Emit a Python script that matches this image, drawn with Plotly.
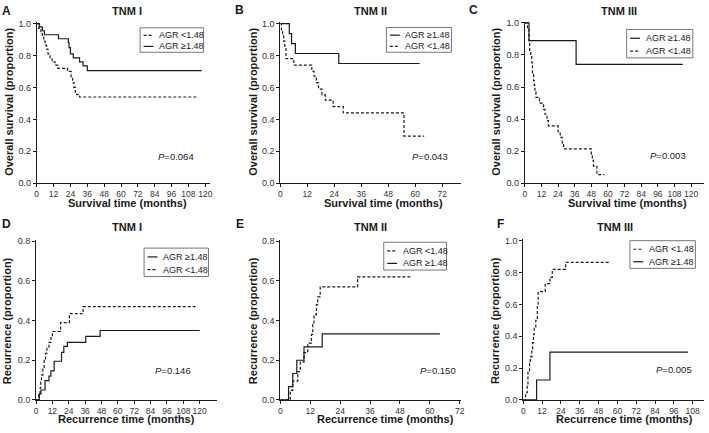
import plotly.graph_objects as go

W, H = 709, 433

# ---------------- data ----------------
# Panel A: TNM I, overall survival
A_hi_t = [0, 2, 4, 5.5, 15.5, 22.5, 23, 24, 26, 30.5, 33, 36, 117.5]
A_hi_s = [1.0, 0.98, 0.955, 0.93, 0.905, 0.88, 0.85, 0.81, 0.785, 0.76, 0.735, 0.705, 0.705]
A_lo_t = [0, 1.5, 3, 4, 5, 6, 7, 8, 9.5, 11, 13, 15, 22, 24.5, 25.5, 26.5, 27.5, 28.5, 30.5, 114]
A_lo_s = [1.0, 0.97, 0.945, 0.92, 0.89, 0.865, 0.84, 0.81, 0.785, 0.76, 0.74, 0.72, 0.70, 0.665, 0.63, 0.6, 0.57, 0.555, 0.54, 0.54]

# Panel B: TNM II, overall survival
B_hi_t = [0, 4, 5, 6.7, 26, 62]
B_hi_s = [1.0, 0.9375, 0.875, 0.8125, 0.75, 0.75]
B_lo_t = [0, 0.5, 1, 1.5, 2, 2.5, 6, 14, 15, 16, 17, 18.5, 20, 23.5, 28, 55, 64]
B_lo_s = [1.0, 0.96, 0.93, 0.89, 0.85, 0.78, 0.74, 0.70, 0.67, 0.63, 0.59, 0.555, 0.52, 0.48, 0.44, 0.295, 0.295]

# Panel C: TNM III, overall survival
C_hi_t = [0, 3, 37, 114]
C_hi_s = [1.0, 0.889, 0.741, 0.741]
C_lo_t = [0, 2, 3, 3.5, 4.3, 5, 5.5, 6.3, 6.8, 7.3, 8, 10.5, 13.5, 14.5, 16, 17, 24, 25.5, 27, 28, 48, 48.7, 49.5, 52, 57.5]
C_lo_s = [1.0, 0.96, 0.89, 0.82, 0.79, 0.75, 0.68, 0.64, 0.61, 0.57, 0.536, 0.50, 0.46, 0.43, 0.39, 0.357, 0.32, 0.286, 0.25, 0.214, 0.18, 0.143, 0.107, 0.054, 0.054]

# Panel D: TNM I, recurrence
D_hi_t = [0, 2.4, 3.6, 6.6, 9.5, 10.9, 13.3, 18.7, 20.4, 23, 36.5, 47, 120]
D_hi_s = [0, 0.03, 0.05, 0.097, 0.12, 0.146, 0.195, 0.24, 0.27, 0.29, 0.32, 0.35, 0.35]
D_lo_t = [0, 2, 3, 3.5, 4, 5, 6, 7, 8, 9.5, 11, 12, 18, 24.5, 34.5, 117]
D_lo_s = [0, 0.03, 0.06, 0.09, 0.125, 0.16, 0.2, 0.235, 0.26, 0.29, 0.32, 0.345, 0.39, 0.435, 0.47, 0.47]

# Panel E: TNM II, recurrence
E_hi_t = [0, 3.3, 5, 6.6, 9.5, 16.8, 64]
E_hi_s = [0, 0.067, 0.133, 0.2, 0.267, 0.333, 0.333]
E_lo_t = [0, 4, 5, 7, 8, 9.5, 11, 12.5, 13, 13.5, 14.5, 15, 16, 31, 53]
E_lo_s = [0, 0.048, 0.095, 0.143, 0.19, 0.238, 0.286, 0.33, 0.38, 0.43, 0.48, 0.52, 0.57, 0.62, 0.62]

# Panel F: TNM III, recurrence
F_hi_t = [0, 8.5, 17, 105]
F_hi_s = [0, 0.125, 0.3, 0.3]
F_lo_t = [0, 1.5, 2.5, 3, 4, 4.5, 5.5, 6, 6.5, 7, 8, 9, 9.5, 14, 17, 18.5, 27, 55.5]
F_lo_s = [0, 0.045, 0.09, 0.18, 0.23, 0.27, 0.32, 0.36, 0.41, 0.45, 0.5, 0.59, 0.68, 0.73, 0.77, 0.82, 0.864, 0.864]

LABEL_HI = "AGR \u22651.48"
LABEL_LO = "AGR <1.48"

panels = [
    dict(letter="A", title="TNM I", p="0.064", hi=(A_hi_t, A_hi_s), lo=(A_lo_t, A_lo_s),
         box=(35, 20, 210, 183), xr=123.5, xmax=120, ymax=1.0,
         xt="Survival time (months)", yt="Overall survival (proportion)",
         order=["lo", "hi"], leg=(139.3, 24.3, 203.3, 49.3), ppos=(175, 156),
         lpos=(5, 7), tpos=(126, 7), xtpos=(127, 210), ytpos=(7, 100)),
    dict(letter="B", title="TNM II", p="0.043", hi=(B_hi_t, B_hi_s), lo=(B_lo_t, B_lo_s),
         box=(280.7, 20, 463, 183), xr=80.4, xmax=72, ymax=1.0,
         xt="Survival time (months)", yt="Overall survival (proportion)",
         order=["hi", "lo"], leg=(387.7, 24, 453.3, 49.3), ppos=(432, 156),
         lpos=(240, 6), tpos=(372, 7), xtpos=(385, 210), ytpos=(253, 100)),
    dict(letter="C", title="TNM III", p="0.003", hi=(C_hi_t, C_hi_s), lo=(C_lo_t, C_lo_s),
         box=(527.3, 19.3, 708, 183), xr=129.3, xmax=120, ymax=1.0,
         xt="Survival time (months)", yt="Overall survival (proportion)",
         order=["hi", "lo"], leg=(630, 26, 696.7, 55), ppos=(672, 155),
         lpos=(476, 6), tpos=(622, 7), xtpos=(631, 210), ytpos=(498, 100)),
    dict(letter="D", title="TNM I", p="0.146", hi=(D_hi_t, D_hi_s), lo=(D_lo_t, D_lo_s),
         box=(34.3, 242.3, 216.7, 404.3), xr=132.6, xmax=120, ymax=0.8,
         xt="Recurrence time (months)", yt="Recurrence (proportion)",
         order=["hi", "lo"], leg=(143.3, 249.3, 208.3, 278.3), ppos=(172, 374),
         lpos=(5, 225), tpos=(126, 228), xtpos=(126, 430.5), ytpos=(5, 323)),
    dict(letter="E", title="TNM II", p="0.150", hi=(E_hi_t, E_hi_s), lo=(E_lo_t, E_lo_s),
         box=(280.7, 242.3, 462.7, 404.3), xr=72.4, xmax=72, ymax=0.8,
         xt="Recurrence time (months)", yt="Recurrence (proportion)",
         order=["lo", "hi"], leg=(385, 243.3, 448.3, 271.7), ppos=(440, 374),
         lpos=(240, 225), tpos=(372, 228), xtpos=(387, 430.5), ytpos=(253, 323)),
    dict(letter="F", title="TNM III", p="0.005", hi=(F_hi_t, F_hi_s), lo=(F_lo_t, F_lo_s),
         box=(525.7, 241.7, 708, 404.3), xr=115.2, xmax=108, ymax=1.0,
         xt="Recurrence time (months)", yt="Recurrence (proportion)",
         order=["lo", "hi"], leg=(633.3, 241.7, 699.3, 270), ppos=(678, 373),
         lpos=(503, 225), tpos=(618, 228), xtpos=(628, 430.5), ytpos=(498, 323)),
]

FONT = "Arial, 'Liberation Sans', Helvetica, sans-serif"
INK = "#1a1a1a"

def px(x):
    return x / W

def py(y):
    return 1 - y / H

fig = go.Figure()
layout = dict(
    width=W, height=H, margin=dict(l=0, r=0, t=0, b=0),
    paper_bgcolor="white", plot_bgcolor="white", showlegend=False,
    font=dict(family=FONT, color=INK),
)
annotations = []
shapes = []

for i, p in enumerate(panels):
    n = "" if i == 0 else str(i + 1)
    xa, ya = "x" + n, "y" + n
    x0, y0, x1, y1 = p["box"]
    ypad = 0.008 * p["ymax"]
    ppu = (y1 - y0) / p["ymax"]
    layout["xaxis" + n] = dict(
        domain=[px(x0), px(x1)], anchor=ya, range=[0, p["xr"]],
        tickvals=list(range(0, p["xmax"] + 1, 12)), tickangle=0,
        showline=True, linecolor=INK, linewidth=1, ticks="outside", ticklen=3,
        tickcolor=INK, tickwidth=1, showgrid=False, zeroline=False,
        tickfont=dict(size=8.5, family=FONT, color="#333"), fixedrange=True,
    )
    layout["yaxis" + n] = dict(
        domain=[py(y1), py(y0 - ypad * ppu)], anchor=xa, range=[0, p["ymax"] + ypad],
        tickvals=[round(v * 0.2, 1) for v in range(int(round(p["ymax"] / 0.2)) + 1)],
        tickformat=".1f",
        showline=True, linecolor=INK, linewidth=1, ticks="outside", ticklen=3,
        tickcolor=INK, tickwidth=1, showgrid=False, zeroline=False,
        tickfont=dict(size=9, family=FONT, color="#333"), fixedrange=True,
    )
    t, s = p["hi"]
    fig.add_trace(go.Scatter(x=t, y=s, mode="lines", line=dict(shape="hv", color=INK, width=1.2),
                             name=LABEL_HI, xaxis=xa, yaxis=ya, hoverinfo="skip"))
    t, s = p["lo"]
    fig.add_trace(go.Scatter(x=t, y=s, mode="lines",
                             line=dict(shape="hv", color=INK, width=1.2, dash="3px,2px"),
                             name=LABEL_LO, xaxis=xa, yaxis=ya, hoverinfo="skip"))

    # titles and labels
    annotations.append(dict(text="<b>" + p["letter"] + "</b>", x=px(p["lpos"][0]), y=py(p["lpos"][1]),
                            xref="paper", yref="paper", showarrow=False, xanchor="center", yanchor="middle",
                            font=dict(size=12, family=FONT, color=INK)))
    annotations.append(dict(text="<b>" + p["title"] + "</b>", x=px(p["tpos"][0]), y=py(p["tpos"][1]),
                            xref="paper", yref="paper", showarrow=False, xanchor="center", yanchor="middle",
                            font=dict(size=11, family=FONT, color=INK)))
    annotations.append(dict(text="<b>" + p["xt"] + "</b>", x=px(p["xtpos"][0]), y=py(p["xtpos"][1]),
                            xref="paper", yref="paper", showarrow=False, xanchor="center", yanchor="bottom",
                            borderpad=0, font=dict(size=11, family=FONT, color=INK)))
    annotations.append(dict(text="<b>" + p["yt"] + "</b>", x=px(p["ytpos"][0]), y=py(p["ytpos"][1]),
                            xref="paper", yref="paper", showarrow=False, xanchor="center", yanchor="middle",
                            textangle=-90, font=dict(size=11, family=FONT, color=INK)))
    annotations.append(dict(text="<i>P</i>=" + p["p"], x=px(p["ppos"][0]), y=py(p["ppos"][1]),
                            xref="paper", yref="paper", showarrow=False, xanchor="center", yanchor="middle",
                            font=dict(size=9.5, family=FONT, color=INK)))

    # legend box
    lx0, ly0, lx1, ly1 = p["leg"]
    shapes.append(dict(type="rect", xref="paper", yref="paper", x0=px(lx0), x1=px(lx1),
                       y0=py(ly1), y1=py(ly0), line=dict(color="#777", width=1)))
    bh = ly1 - ly0
    rows = [ly0 + bh * 0.31, ly0 + bh * 0.76]
    for r, key in zip(rows, p["order"]):
        dash = "solid" if key == "hi" else "3px,2px"
        shapes.append(dict(type="line", xref="paper", yref="paper", x0=px(lx0 + 3.5), x1=px(lx0 + 13.5),
                           y0=py(r), y1=py(r), line=dict(color=INK, width=1.2, dash=dash)))
        annotations.append(dict(text=LABEL_HI if key == "hi" else LABEL_LO, x=px(lx0 + 17), y=py(r),
                                xref="paper", yref="paper", showarrow=False, xanchor="left", yanchor="middle",
                                font=dict(size=9, family=FONT, color=INK)))

layout["annotations"] = annotations
layout["shapes"] = shapes
fig.update_layout(**layout)
fig.write_html("out.html", config={"displayModeBar": False},
               post_script="document.body.style.margin='0';document.body.style.overflow='hidden';")
